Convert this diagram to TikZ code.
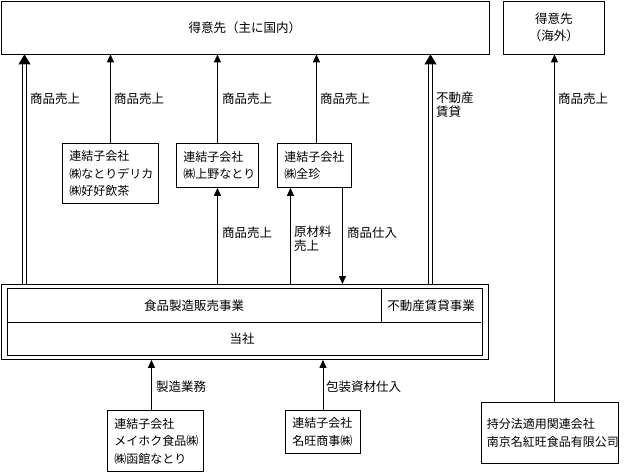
\documentclass[tikz,border=0pt]{standalone}
\usepackage{fontspec}
\setmainfont{Noto Sans CJK JP}
\usetikzlibrary{arrows.meta}
\begin{document}
\begin{tikzpicture}[x=1pt,y=-1pt,
  font=\fontsize{12}{17.5}\selectfont,
  box/.style={draw, line width=0.9pt, inner sep=0pt, align=left, anchor=north west},
  cbox/.style={draw, line width=0.9pt, inner sep=0pt, align=center, anchor=north west, font=\fontsize{12.5}{17}\selectfont},
  arr/.style={line width=0.9pt, -{Triangle[length=8pt,width=7pt]}},
  darr/.style={line width=1pt, double, double distance=3pt, -{Triangle[length=10pt,width=12pt]}},
  lbl/.style={anchor=west, inner sep=0pt, align=left, font=\fontsize{12.5}{14}\selectfont},
  lbltwo/.style={anchor=north west, inner sep=0pt, align=left, font=\fontsize{12.5}{14}\selectfont}]
\useasboundingbox (0,0) rectangle (624,472);
% top customers
\node[cbox, minimum width=488pt, minimum height=53pt] (top) at (0.5,0.5) {得意先（主に国内）};
\node[cbox, minimum width=101pt, minimum height=53pt] (ov) at (503,0.5) {得意先\\（海外）};
% subsidiaries row
\node[box, minimum width=96pt, minimum height=60pt, text width=82pt] (b1) at (62,143) {連結子会社\\㈱なとりデリカ\\㈱好好飲茶};
\node[box, minimum width=82pt, minimum height=44pt, text width=68pt] (b2) at (176,143) {連結子会社\\㈱上野なとり};
\node[box, minimum width=74pt, minimum height=44pt, text width=60pt] (b3) at (277,143) {連結子会社\\㈱全珍};
% main company
\node[draw, line width=0.9pt, minimum width=487pt, minimum height=75pt, inner sep=0pt, anchor=north west] (main) at (0.5,284) {};
\draw[line width=0.8pt] ([shift={(7,4)}]main.north west) rectangle ([shift={(-6,-5)}]main.south east);
\draw[line width=0.8pt] (7.5,322) -- (481,322);
\draw[line width=0.8pt] (381,288) -- (381,322);
\node[font=\fontsize{12.5}{15}\selectfont] (food) at (194,306) {食品製造販売事業};
\node[font=\fontsize{12.5}{15}\selectfont] (estate) at (431,306) {不動産賃貸事業};
\node[font=\fontsize{12.5}{15}\selectfont] (self) at (242,339) {当社};
% bottom boxes
\node[box, minimum width=96pt, minimum height=61pt, text width=82pt] (mh) at (107,410) {連結子会社\\メイホク食品㈱\\㈱函館なとり};
\node[box, minimum width=75pt, minimum height=43pt, text width=61pt] (mo) at (285,410) {連結子会社\\名旺商事㈱};
\node[box, minimum width=137pt, minimum height=61pt, text width=126pt] (nj) at (481,402) {持分法適用関連会社\\南京名紅旺食品有限公司};
% coordinates
\coordinate (pl) at ([xshift=24pt]main.north west);
\coordinate (pr) at ([xshift=430pt]main.north west);
\coordinate (p3a) at ([xshift=2pt]b3.north);
\coordinate (p1) at ([xshift=-24pt]b3.south);
\coordinate (p2) at ([xshift=28pt]b3.south);
\coordinate (p4) at ([xshift=4.5pt]nj.north);
\coordinate (p5) at ([xshift=-4pt]mh.north);
% connectors
\draw[darr] (pl) -- (pl |- top.south);
\draw[darr] (pr) -- (pr |- top.south);
\draw[arr] (b1.north) -- (b1.north |- top.south);
\draw[arr] (b2.north) -- (b2.north |- top.south);
\draw[arr] (p3a) -- (p3a |- top.south);
\draw[arr] (b2.south |- main.north) -- (b2.south);
\draw[arr] (p1 |- main.north) -- (p1);
\draw[arr] (p2) -- (p2 |- main.north);
\draw[arr] (p4) -- (p4 |- ov.south);
\draw[arr] (p5) -- (p5 |- main.south);
\draw[arr] (mo.north) -- (mo.north |- main.south);
% labels
\node[lbl] (l1) at (30,99) {商品売上};
\node[lbl] (l2) at (114,99) {商品売上};
\node[lbl] (l3) at (222,99) {商品売上};
\node[lbl] (l4) at (320,99) {商品売上};
\node[lbltwo] (l5) at (436,92) {不動産\\賃貸};
\node[lbl] (l6) at (558,99) {商品売上};
\node[lbl] (l7) at (222,233) {商品売上};
\node[lbltwo] (l8) at (294,226) {原材料\\売上};
\node[lbl] (l9) at (347,233) {商品仕入};
\node[lbl] (l10) at (156,387) {製造業務};
\node[lbl] (l11) at (326,387) {包装資材仕入};
\end{tikzpicture}
\end{document}
